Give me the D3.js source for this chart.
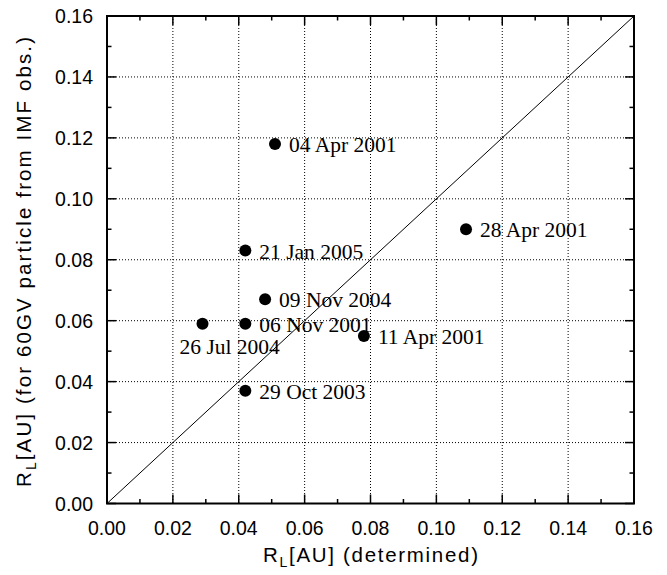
<!DOCTYPE html>
<html>
<head>
<meta charset="utf-8">
<script src="https://cdn.jsdelivr.net/npm/d3@7"></script>
<style>
  body { margin: 0; background: #fff; }
  svg { display: block; }
  .tick-label { font-family: "Liberation Sans", Arial, sans-serif; font-size: 19.5px; fill: #000; }
  .axis-title { font-family: "Liberation Sans", Arial, sans-serif; font-size: 20.5px; fill: #000; }
  .event-label { font-family: "Liberation Serif", "Times New Roman", serif; font-size: 21.5px; fill: #000; }
</style>
</head>
<body>
<svg id="chart" width="667" height="575"></svg>
<script>
// ==========================================
// DATA
// ==========================================
const eventNames = ['04 Apr 2001', '21 Jan 2005', '09 Nov 2004', '06 Nov 2001',
                    '26 Jul 2004', '11 Apr 2001', '28 Apr 2001', '29 Oct 2003'];
const rlDetermined = [0.051, 0.042, 0.048, 0.042, 0.029, 0.078, 0.109, 0.042];
const rlFromImf    = [0.118, 0.083, 0.067, 0.059, 0.059, 0.055, 0.090, 0.037];
// label placement: 'right' next to the dot, 'below' under-left of it
const labelSide    = ['right', 'right', 'right', 'right', 'below', 'right', 'right', 'right'];

const majorTicks = [0, 0.02, 0.04, 0.06, 0.08, 0.10, 0.12, 0.14, 0.16];
const minorTicks = [0.01, 0.03, 0.05, 0.07, 0.09, 0.11, 0.13, 0.15];
const axisDomain = [0, 0.16];

// ==========================================
// LAYOUT
// ==========================================
const plotLeft = 107, plotRight = 634, plotTop = 16, plotBottom = 503.5;

const svg = d3.select('#chart');
const x = d3.scaleLinear().domain(axisDomain).range([plotLeft, plotRight]);
const y = d3.scaleLinear().domain(axisDomain).range([plotBottom, plotTop]);

// ==========================================
// GRID
// ==========================================
const inner = majorTicks.slice(1, -1);

svg.append('g')
  .selectAll('line')
  .data(inner)
  .enter()
  .append('line')
  .attr('x1', d => x(d)).attr('x2', d => x(d))
  .attr('y1', plotTop).attr('y2', plotBottom)
  .attr('stroke', '#000')
  .attr('stroke-width', 1)
  .attr('stroke-dasharray', '1,2');

svg.append('g')
  .selectAll('line')
  .data(inner)
  .enter()
  .append('line')
  .attr('x1', plotLeft).attr('x2', plotRight)
  .attr('y1', d => y(d)).attr('y2', d => y(d))
  .attr('stroke', '#000')
  .attr('stroke-width', 1)
  .attr('stroke-dasharray', '1,2');

// diagonal y = x
svg.append('line')
  .attr('x1', x(axisDomain[0])).attr('y1', y(axisDomain[0]))
  .attr('x2', x(axisDomain[1])).attr('y2', y(axisDomain[1]))
  .attr('stroke', '#000')
  .attr('stroke-width', 1);

// ==========================================
// AXES (ticks inward on all four sides)
// ==========================================
function addTicks(values, len) {
  const g = svg.append('g').attr('stroke', '#000').attr('stroke-width', 1.5);
  values.forEach(v => {
    g.append('line').attr('x1', x(v)).attr('x2', x(v)).attr('y1', plotBottom).attr('y2', plotBottom - len);
    g.append('line').attr('x1', x(v)).attr('x2', x(v)).attr('y1', plotTop).attr('y2', plotTop + len);
    g.append('line').attr('y1', y(v)).attr('y2', y(v)).attr('x1', plotLeft).attr('x2', plotLeft + len);
    g.append('line').attr('y1', y(v)).attr('y2', y(v)).attr('x1', plotRight).attr('x2', plotRight - len);
  });
}
addTicks(majorTicks, 9);
addTicks(minorTicks, 4.5);

svg.append('rect')
  .attr('x', plotLeft).attr('y', plotTop)
  .attr('width', plotRight - plotLeft).attr('height', plotBottom - plotTop)
  .attr('fill', 'none')
  .attr('stroke', '#000')
  .attr('stroke-width', 2);

svg.append('g')
  .selectAll('text')
  .data(majorTicks)
  .enter()
  .append('text')
  .attr('class', 'tick-label')
  .attr('x', d => x(d))
  .attr('y', 535)
  .attr('text-anchor', 'middle')
  .text(d => d.toFixed(2));

svg.append('g')
  .selectAll('text')
  .data(majorTicks)
  .enter()
  .append('text')
  .attr('class', 'tick-label')
  .attr('x', 93)
  .attr('y', d => y(d) + 7)
  .attr('text-anchor', 'end')
  .text(d => d.toFixed(2));

// axis titles with subscript L
function axisTitle(sel, rest) {
  sel.append('tspan').text('R');
  sel.append('tspan').attr('dy', 5).style('font-size', '14px').text('L');
  sel.append('tspan').attr('dy', -5).text(rest);
}

const xTitle = svg.append('text')
  .attr('class', 'axis-title')
  .attr('x', (plotLeft + plotRight) / 2)
  .attr('y', 562)
  .attr('text-anchor', 'middle')
  .attr('textLength', 215)
  .attr('lengthAdjust', 'spacing');
axisTitle(xTitle, '[AU] (determined)');

const yTitle = svg.append('text')
  .attr('class', 'axis-title')
  .attr('transform', 'translate(31,262) rotate(-90)')
  .attr('text-anchor', 'middle')
  .attr('textLength', 450)
  .attr('lengthAdjust', 'spacing');
axisTitle(yTitle, '[AU] (for 60GV particle from IMF obs.)');

// ==========================================
// POINTS + LABELS
// ==========================================
const points = eventNames.map((name, i) => ({
  name: name,
  rx: rlDetermined[i],
  ry: rlFromImf[i],
  side: labelSide[i]
}));

svg.append('g')
  .selectAll('circle')
  .data(points)
  .enter()
  .append('circle')
  .attr('cx', d => x(d.rx))
  .attr('cy', d => y(d.ry))
  .attr('r', 6)
  .attr('fill', '#000');

svg.append('g')
  .selectAll('text')
  .data(points)
  .enter()
  .append('text')
  .attr('class', 'event-label')
  .attr('x', d => x(d.rx) + (d.side === 'below' ? -23 : 14))
  .attr('y', d => y(d.ry) + (d.side === 'below' ? 30 : 8))
  .text(d => d.name);
</script>
</body>
</html>
